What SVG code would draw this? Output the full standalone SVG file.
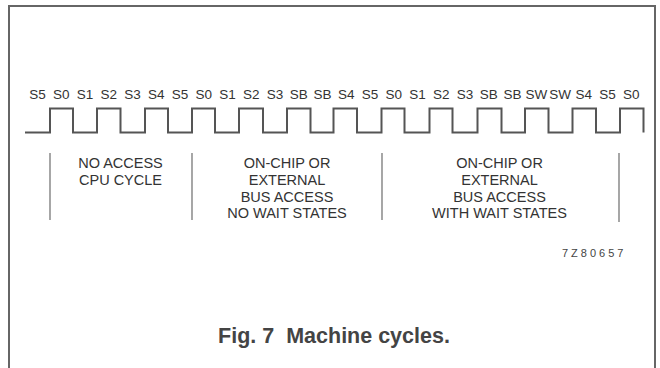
<svg xmlns="http://www.w3.org/2000/svg" width="660" height="368" viewBox="0 0 660 368">
<style>
.lbl{font-family:"Liberation Sans",Arial,sans-serif;font-size:13.5px;fill:#333;text-anchor:middle}
.txt{font-family:"Liberation Sans",Arial,sans-serif;font-size:14.5px;fill:#333;text-anchor:middle}
.div{stroke:#777;stroke-width:1.3;fill:none}
.wave{stroke:#555;stroke-width:2;fill:none;stroke-linejoin:miter}
</style>
<rect width="660" height="368" fill="#fff"/>
<path d="M9,372 V6 H655 V372" fill="none" stroke="#666" stroke-width="2"/>
<g id="state-labels">
<text class="lbl" x="37.5" y="98.5">S5</text>
<text class="lbl" x="61.25" y="98.5">S0</text>
<text class="lbl" x="85" y="98.5">S1</text>
<text class="lbl" x="108.75" y="98.5">S2</text>
<text class="lbl" x="132.5" y="98.5">S3</text>
<text class="lbl" x="156.25" y="98.5">S4</text>
<text class="lbl" x="180" y="98.5">S5</text>
<text class="lbl" x="203.75" y="98.5">S0</text>
<text class="lbl" x="227.5" y="98.5">S1</text>
<text class="lbl" x="251.25" y="98.5">S2</text>
<text class="lbl" x="275" y="98.5">S3</text>
<text class="lbl" x="298.75" y="98.5">SB</text>
<text class="lbl" x="322.5" y="98.5">SB</text>
<text class="lbl" x="346.25" y="98.5">S4</text>
<text class="lbl" x="370" y="98.5">S5</text>
<text class="lbl" x="393.75" y="98.5">S0</text>
<text class="lbl" x="417.5" y="98.5">S1</text>
<text class="lbl" x="441.25" y="98.5">S2</text>
<text class="lbl" x="465" y="98.5">S3</text>
<text class="lbl" x="488.75" y="98.5">SB</text>
<text class="lbl" x="512.5" y="98.5">SB</text>
<text class="lbl" x="536.25" y="98.5">SW</text>
<text class="lbl" x="560" y="98.5">SW</text>
<text class="lbl" x="583.75" y="98.5">S4</text>
<text class="lbl" x="607.5" y="98.5">S5</text>
<text class="lbl" x="631.25" y="98.5">S0</text>
</g>
<g id="clock">
<path class="wave" d="M25,132.5 H50 V108.5 H73 V132.5 H97 V108.5 H120.5 V132.5 H145 V108.5 H168 V132.5 H192 V108.5 H215 V132.5 H239 V108.5 H263 V132.5 H287 V108.5 H310.5 V132.5 H333.5 V108.5 H357 V132.5 H381.5 V108.5 H404.5 V132.5 H429.5 V108.5 H452.5 V132.5 H477.5 V108.5 H501.5 V132.5 H525 V108.5 H548.5 V132.5 H572.5 V108.5 H596 V132.5 H620 V108.5 H643.5 V132.5"/>
</g>
<g id="connectors">
<line class="div" x1="50" y1="153" x2="50" y2="220"/>
<line class="div" x1="192" y1="153" x2="192" y2="220"/>
<line class="div" x1="382" y1="153" x2="382" y2="220"/>
<line class="div" x1="619" y1="153" x2="619" y2="222"/>
</g>
<g id="no-access">
<text class="txt" x="120.5" y="168.3">NO ACCESS</text>
<text class="txt" x="120.5" y="185">CPU CYCLE</text>
</g>
<g id="no-wait">
<text class="txt" x="287" y="168.3">ON-CHIP OR</text>
<text class="txt" x="287" y="185">EXTERNAL</text>
<text class="txt" x="287" y="201.7">BUS ACCESS</text>
<text class="txt" x="287" y="218.3">NO WAIT STATES</text>
</g>
<g id="with-wait">
<text class="txt" x="499.5" y="168.3">ON-CHIP OR</text>
<text class="txt" x="499.5" y="185">EXTERNAL</text>
<text class="txt" x="499.5" y="201.7">BUS ACCESS</text>
<text class="txt" x="499.5" y="218.3">WITH WAIT STATES</text>
</g>
<text x="562" y="256.7" font-family="Liberation Sans,Arial,sans-serif" font-size="11" fill="#444" letter-spacing="3">7Z80657</text>
<text x="334" y="343.3" font-family="Liberation Sans,Arial,sans-serif" font-size="21.5" font-weight="bold" fill="#444" text-anchor="middle" xml:space="preserve">Fig. 7  Machine cycles.</text>
</svg>
